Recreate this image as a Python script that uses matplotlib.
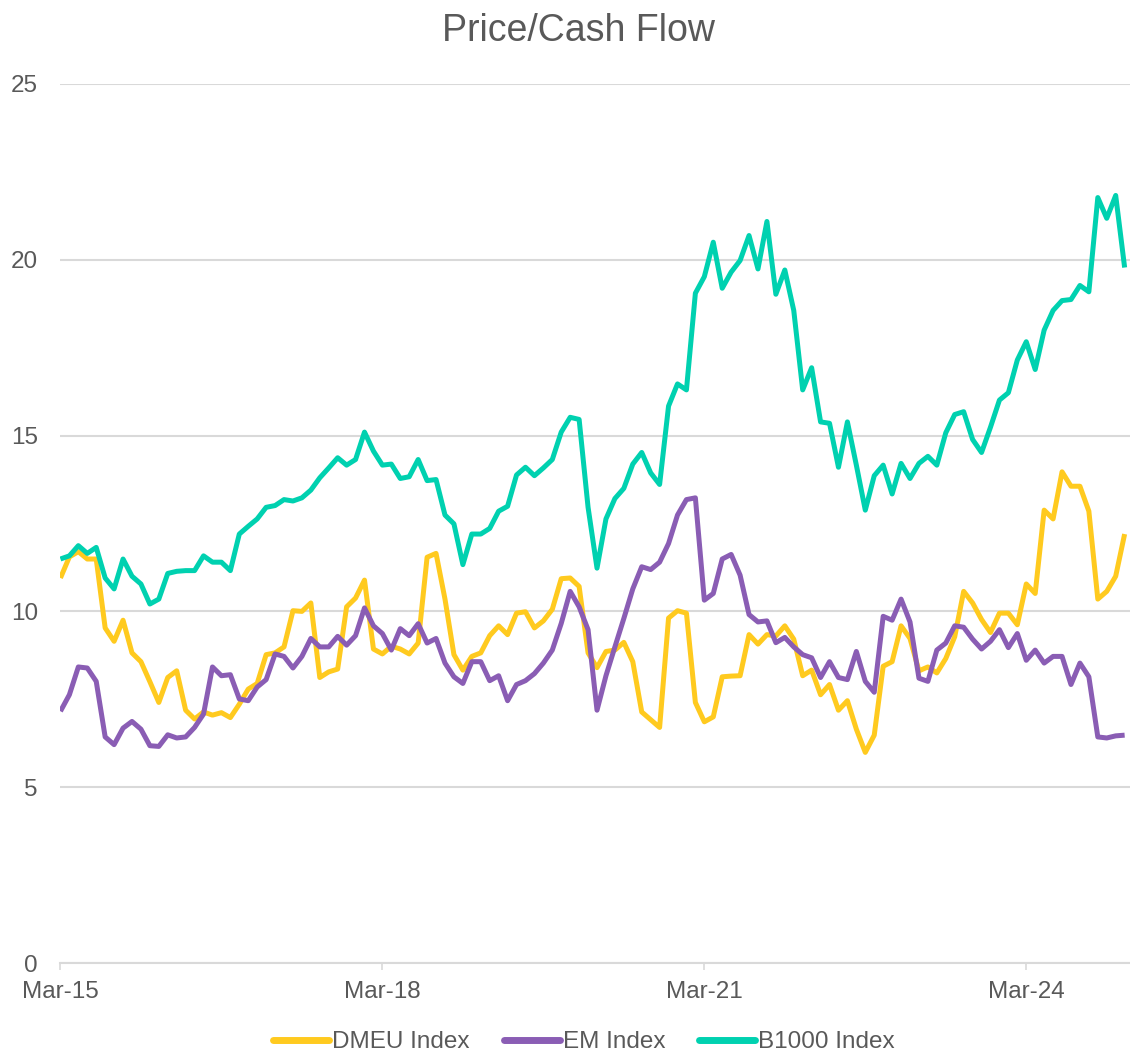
import numpy as np
import matplotlib
matplotlib.use('Agg')
import matplotlib.pyplot as plt

# monthly values, Mar-15 .. Feb-25
dmeu = [10.95, 11.55, 11.7, 11.49, 11.49, 9.53, 9.15, 9.75, 8.82, 8.57,
        8.0, 7.41, 8.12, 8.31, 7.19, 6.94, 7.14, 7.05, 7.12, 6.98,
        7.36, 7.79, 7.95, 8.77, 8.82, 8.99, 10.02, 10.0, 10.24, 8.12,
        8.28, 8.36, 10.13, 10.38, 10.89, 8.93, 8.79, 9.01, 8.93, 8.79,
        9.1, 11.54, 11.65, 10.35, 8.77, 8.33, 8.72, 8.82, 9.31, 9.59,
        9.34, 9.95, 9.99, 9.53, 9.73, 10.06, 10.93, 10.95, 10.71, 8.82,
        8.4, 8.86, 8.9, 9.12, 8.57, 7.14, 6.92, 6.7, 9.81, 10.02,
        9.95, 7.41, 6.86, 7.0, 8.14, 8.16, 8.17, 9.34, 9.07, 9.34,
        9.3, 9.59, 9.21, 8.17, 8.33, 7.63, 7.92, 7.19, 7.46, 6.65,
        5.99, 6.48, 8.44, 8.57, 9.59, 9.23, 8.31, 8.42, 8.25, 8.66,
        9.28, 10.57, 10.24, 9.77, 9.4, 9.95, 9.95, 9.62, 10.78, 10.51,
        12.88, 12.63, 13.97, 13.56, 13.56, 12.85, 10.35, 10.57, 11.0, 12.2]

em = [7.16, 7.63, 8.42, 8.39, 8.01, 6.43, 6.21, 6.68, 6.87, 6.65,
      6.18, 6.16, 6.49, 6.40, 6.43, 6.70, 7.08, 8.42, 8.17, 8.20,
      7.51, 7.46, 7.85, 8.06, 8.79, 8.72, 8.39, 8.72, 9.23, 8.99,
      8.99, 9.29, 9.04, 9.31, 10.1, 9.59, 9.37, 8.9, 9.51, 9.31,
      9.65, 9.1, 9.23, 8.53, 8.14, 7.95, 8.57, 8.57, 8.03, 8.17,
      7.46, 7.92, 8.03, 8.23, 8.53, 8.9, 9.66, 10.57, 10.13, 9.48,
      7.19, 8.17, 8.99, 9.8, 10.64, 11.27, 11.19, 11.4, 11.93, 12.74,
      13.18, 13.23, 10.32, 10.51, 11.49, 11.62, 11.03, 9.91, 9.7, 9.73,
      9.11, 9.26, 8.99, 8.77, 8.68, 8.12, 8.57, 8.12, 8.06, 8.86,
      8.01, 7.7, 9.86, 9.75, 10.35, 9.7, 8.1, 8.01, 8.9, 9.1,
      9.59, 9.55, 9.21, 8.93, 9.15, 9.48, 8.97, 9.37, 8.61, 8.9,
      8.53, 8.72, 8.72, 7.92, 8.53, 8.14, 6.43, 6.4, 6.46, 6.48]

b1000 = [11.49, 11.58, 11.87, 11.65, 11.82, 10.95, 10.64, 11.49, 11.0, 10.78,
         10.21, 10.35, 11.08, 11.14, 11.16, 11.16, 11.58, 11.40, 11.40, 11.16,
         12.2, 12.42, 12.63, 12.96, 13.01, 13.18, 13.14, 13.23, 13.45, 13.8,
         14.08, 14.37, 14.16, 14.32, 15.1, 14.56, 14.16, 14.19, 13.78, 13.83,
         14.32, 13.72, 13.75, 12.74, 12.49, 11.33, 12.2, 12.2, 12.36, 12.85,
         12.99, 13.88, 14.1, 13.86, 14.08, 14.32, 15.1, 15.52, 15.46, 12.96,
         11.23, 12.63, 13.21, 13.5, 14.19, 14.52, 13.94, 13.61, 15.84, 16.47,
         16.3, 19.05, 19.52, 20.5, 19.19, 19.65, 19.98, 20.69, 19.74, 21.09,
         19.02, 19.71, 18.56, 16.3, 16.93, 15.39, 15.35, 14.1, 15.39, 14.16,
         12.88, 13.86, 14.16, 13.34, 14.21, 13.78, 14.21, 14.41, 14.16, 15.08,
         15.6, 15.68, 14.89, 14.52, 15.24, 16.01, 16.22, 17.15, 17.67, 16.88,
         18.0, 18.56, 18.84, 18.87, 19.27, 19.09, 21.77, 21.18, 21.83, 19.78]

names = ['DMEU Index', 'EM Index', 'B1000 Index']
colors = ['#FFCA1F', '#8A5DB4', '#00D1B0']
xlabels = ['Mar-15', 'Mar-18', 'Mar-21', 'Mar-24']
yticks = [0, 5, 10, 15, 20, 25]

plt.rcParams['font.family'] = ['Liberation Sans', 'DejaVu Sans']
txt = '#595959'
grid = '#D9D9D9'

fig = plt.figure(figsize=(11.3, 10.55), dpi=100)
ax = fig.add_axes([60/1130, 92/1055, 1070/1130, 879/1055])

x = np.arange(len(dmeu))
for s, n, c in zip([dmeu, em, b1000], names, colors):
    ax.plot(x, s, color=c, lw=3.6, label=n, solid_joinstyle='round',
            solid_capstyle='butt')

ax.set_ylim(0, 25)
ax.set_xlim(-0.05, len(dmeu) - 0.4)
ax.set_yticks(yticks)
ax.set_xticks(np.arange(len(xlabels)) * 36)
ax.set_xticklabels(xlabels)
ax.yaxis.grid(True, color=grid, lw=1.5)
ax.set_axisbelow(True)
for sp in ['top', 'right', 'left']:
    ax.spines[sp].set_visible(False)
ax.spines['bottom'].set_color(grid)
ax.spines['bottom'].set_linewidth(1.5)
ax.tick_params(axis='y', length=0, pad=16, labelsize=17.5, labelcolor=txt)
ax.tick_params(axis='x', length=5, width=1.2, color=grid, pad=8,
               labelsize=17.5, labelcolor=txt)

fig.text(578/1130, 1 - 31/1055, 'Price/Cash Flow', ha='center', va='center',
         fontsize=27, color=txt)

leg = fig.legend(loc='center', bbox_to_anchor=(584/1130, 1 - 1042/1055),
                 ncol=3, frameon=False, fontsize=17.5, handlelength=2.3,
                 handletextpad=0.12, columnspacing=1.4, labelcolor=txt)
for h in leg.get_lines():
    h.set_linewidth(5)
    h.set_solid_capstyle('round')

plt.savefig('out.png', dpi=100)
